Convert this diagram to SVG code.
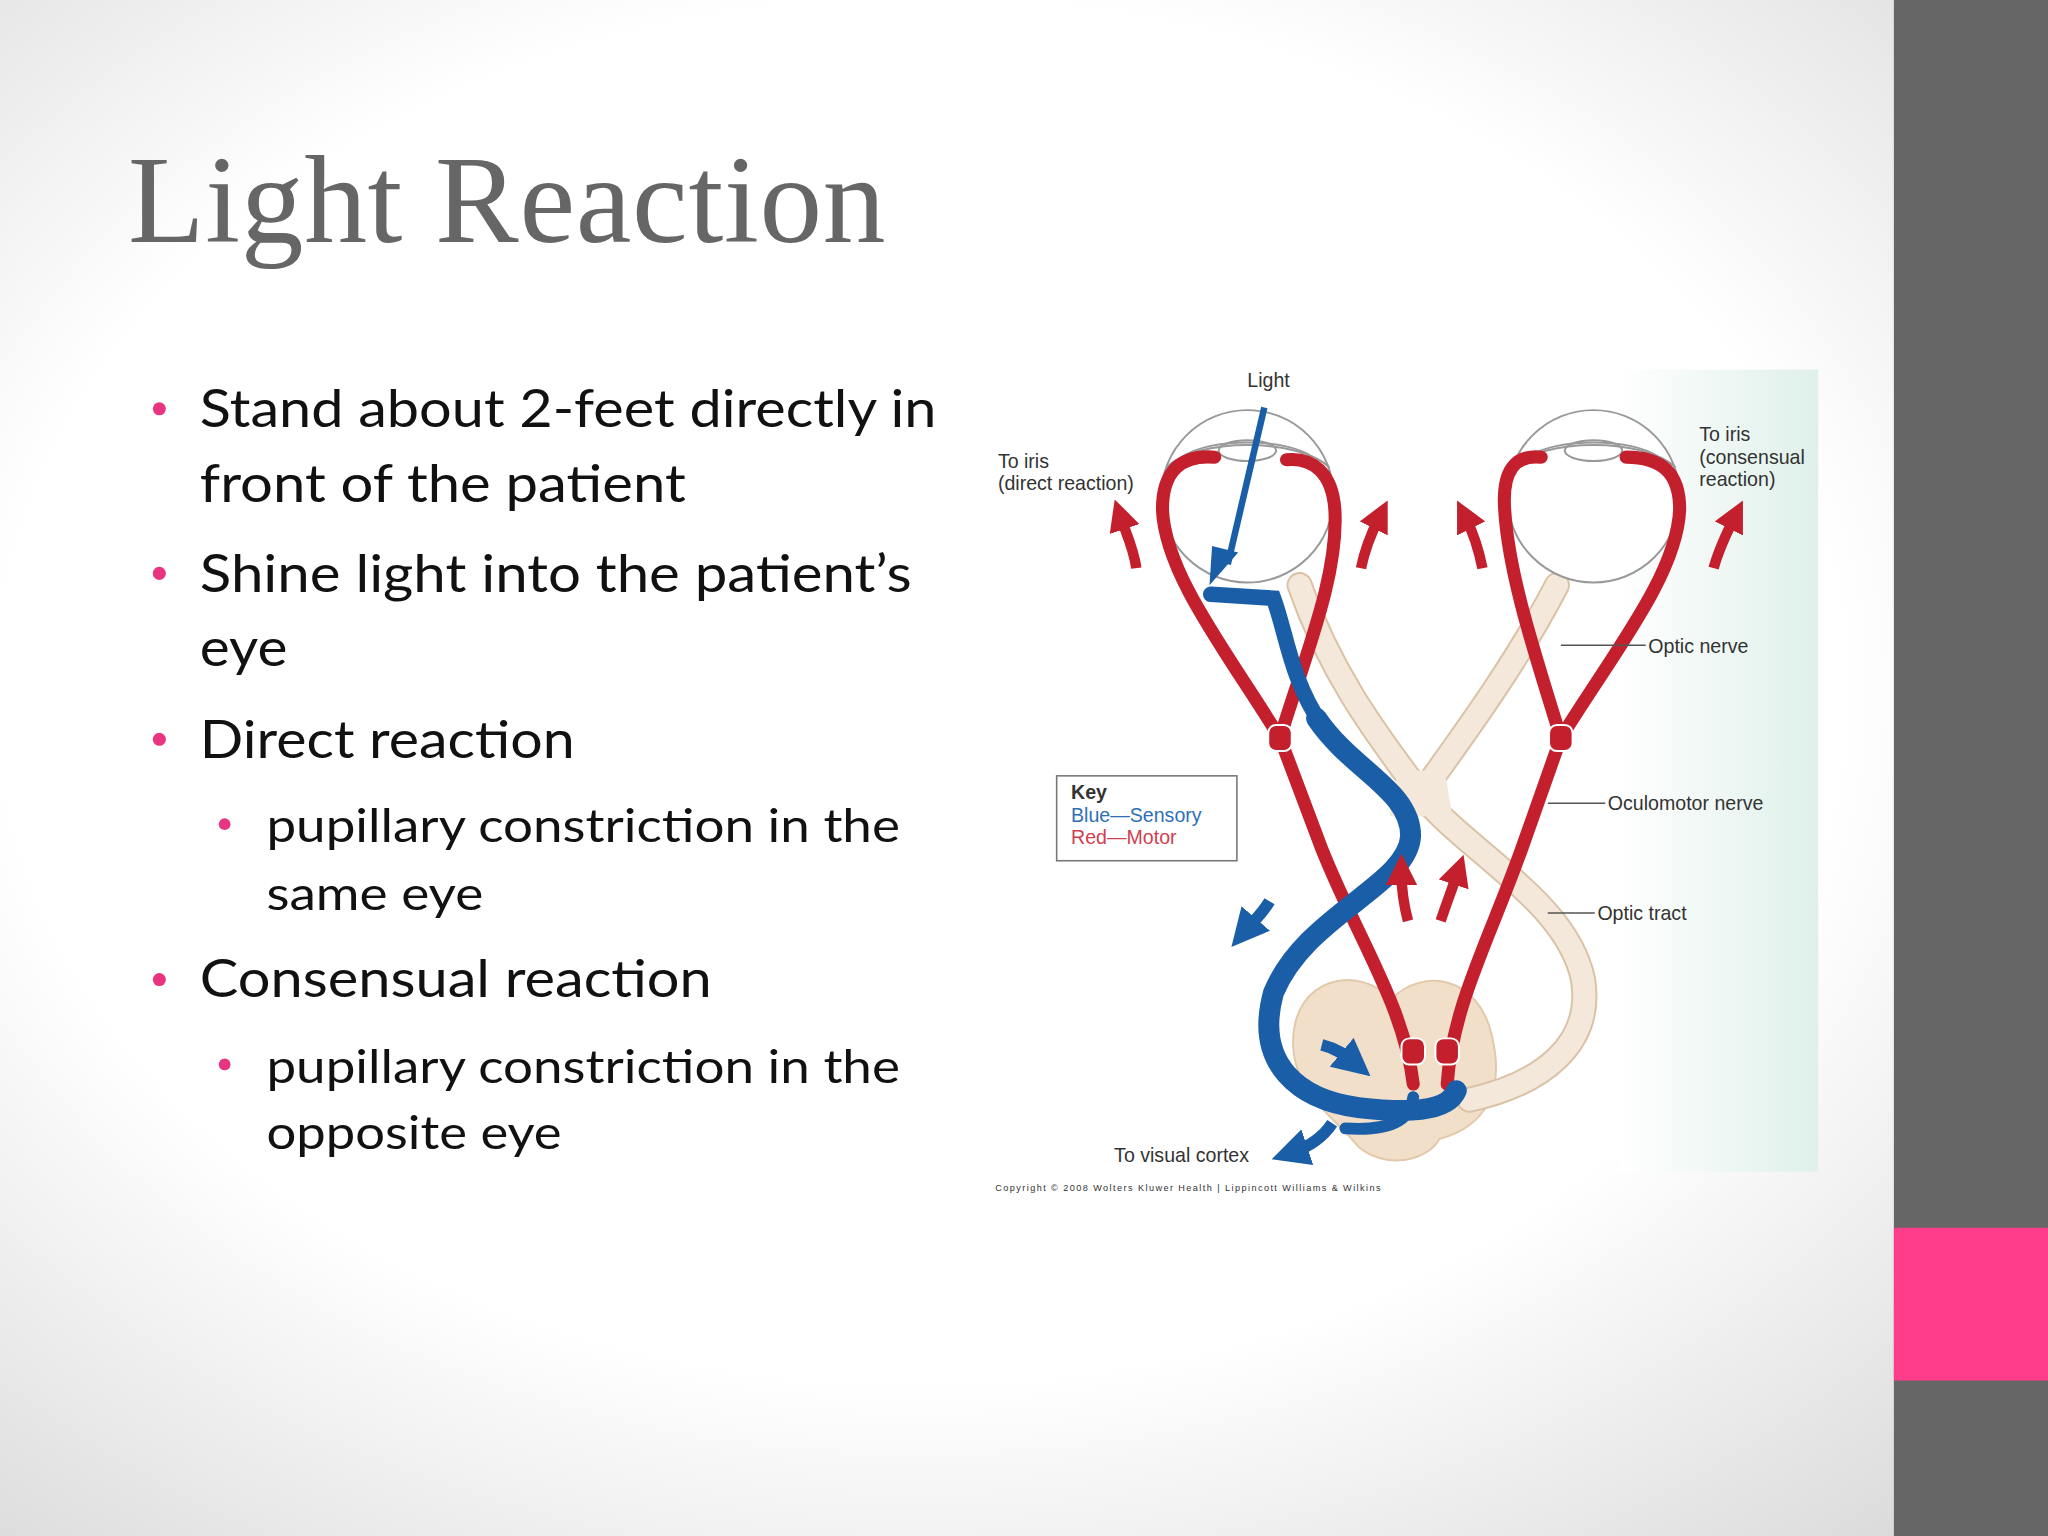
<svg xmlns="http://www.w3.org/2000/svg" width="2048" height="1536" viewBox="0 0 2048 1536">
<defs>
<radialGradient id="bg" cx="0.45" cy="0.45" r="0.75">
<stop offset="0.6" stop-color="#ffffff"/><stop offset="1" stop-color="#d8d8d8"/>
</radialGradient>
<linearGradient id="teal" x1="0" y1="0" x2="1" y2="0">
<stop offset="0" stop-color="#ffffff"/><stop offset="1" stop-color="#dff0ea"/>
</linearGradient>
<marker id="bh" viewBox="0 0 10 10" refX="4" refY="5" markerWidth="3.2" markerHeight="3.2" orient="auto"><path d="M0,0 L10,5 L0,10 Z" fill="#1a5ea8"/></marker>
<marker id="rh" viewBox="0 0 10 10" refX="4" refY="5" markerWidth="3" markerHeight="3" orient="auto"><path d="M0,0 L10,5 L0,10 Z" fill="#c41f2c"/></marker>
<style>
.b{font-family:Lato,"Open Sans",sans-serif;fill:#111}
.l{font-family:"Liberation Sans",Arial,sans-serif;fill:#333;font-size:15px}
.red{fill:none;stroke:#c41f2c;stroke-width:10;stroke-linecap:round}
.nerve{fill:none;stroke:#d9c2a6;stroke-width:20;stroke-linecap:round}
.nerveIn{fill:none;stroke:#f4e8da;stroke-width:17;stroke-linecap:round}
.blue{fill:none;stroke:#1a5ea8;stroke-linecap:round}
.ra{fill:none;stroke:#c41f2c;stroke-width:8;marker-end:url(#rh)}
.ba{fill:none;stroke:#1a5ea8;stroke-width:9;marker-end:url(#bh)}
.lead{stroke:#555;stroke-width:1.2}
</style>
</defs>
<g transform="scale(1.306122)">
<rect width="1568" height="1176" fill="url(#bg)"/>
<rect x="1450" y="0" width="118" height="1176" fill="#666666"/>
<rect x="1450" y="940" width="118" height="117" fill="#ff3d8b"/>
<text x="98" y="185" font-family="Liberation Serif,serif" font-size="96" fill="#666" textLength="580">Light Reaction</text>
<g id="bullets">
<g fill="#e8357f"><circle cx="122" cy="313" r="5"/><circle cx="122" cy="439" r="5"/><circle cx="122" cy="566" r="5"/><circle cx="172" cy="631" r="4.5"/><circle cx="122" cy="750" r="5"/><circle cx="172" cy="815" r="4.5"/></g>
<g lengthAdjust="spacingAndGlyphs">
<text class="b" x="153" y="327" font-size="40" textLength="564" lengthAdjust="spacingAndGlyphs">Stand about 2-feet directly in</text>
<text class="b" x="153" y="384" font-size="40" textLength="372" lengthAdjust="spacingAndGlyphs">front of the patient</text>
<text class="b" x="153" y="453" font-size="40" textLength="545" lengthAdjust="spacingAndGlyphs">Shine light into the patient’s</text>
<text class="b" x="153" y="510" font-size="40" textLength="67" lengthAdjust="spacingAndGlyphs">eye</text>
<text class="b" x="153" y="580" font-size="40" textLength="287" lengthAdjust="spacingAndGlyphs">Direct reaction</text>
<text class="b" x="204" y="645" font-size="36" textLength="485" lengthAdjust="spacingAndGlyphs">pupillary constriction in the</text>
<text class="b" x="204" y="697" font-size="36" textLength="166" lengthAdjust="spacingAndGlyphs">same eye</text>
<text class="b" x="153" y="763" font-size="40" textLength="392" lengthAdjust="spacingAndGlyphs">Consensual reaction</text>
<text class="b" x="204" y="829" font-size="36" textLength="485" lengthAdjust="spacingAndGlyphs">pupillary constriction in the</text>
<text class="b" x="204" y="880" font-size="36" textLength="226" lengthAdjust="spacingAndGlyphs">opposite eye</text>
</g>
</g>
<g id="diagram">
<rect x="1240" y="283" width="152" height="614" fill="url(#teal)"/>
<!-- brainstem -->
<path d="M1065 765 C1040 738 990 748 990 798 C990 838 1025 858 1040 878 C1060 895 1092 890 1102 872 C1140 862 1152 832 1142 792 C1132 748 1090 740 1065 765 Z" fill="#f1dfca" stroke="#e2c9ab" stroke-width="1.5"/>
<!-- optic nerves and tracts -->
<g id="optic">
<path class="nerve" d="M995 448 C1020 520 1060 570 1088 608 C1115 570 1160 510 1192 448"/>
<path class="nerve" d="M1088 608 C1120 650 1200 690 1212 750 C1220 800 1180 830 1125 842"/>
<path d="M1070 590 L1106 590 L1112 625 L1064 625 Z" fill="#f4e8da"/>
<path class="nerveIn" d="M995 448 C1020 520 1060 570 1088 608 C1115 570 1160 510 1192 448"/>
<path class="nerveIn" d="M1088 608 C1120 650 1200 690 1212 750 C1220 800 1180 830 1125 842"/>
</g>
<!-- eyes -->
<g id="eyeL" fill="none" stroke="#999" stroke-width="1.5">
<circle cx="955" cy="380" r="66" fill="#fff"/>
<path d="M893 358 C915 335 995 335 1018 358"/>
<path d="M905 350 C925 335 985 335 1005 350"/>
<ellipse cx="955" cy="345" rx="22" ry="8"/>
</g>
<g id="eyeR" fill="none" stroke="#999" stroke-width="1.5">
<circle cx="1220" cy="380" r="66" fill="#fff"/>
<path d="M1158 358 C1180 335 1260 335 1283 358"/>
<path d="M1170 350 C1190 335 1250 335 1270 350"/>
<ellipse cx="1220" cy="345" rx="22" ry="8"/>
</g>
<!-- red motor -->
<g id="motor">
<path class="red" d="M930 350 C905 348 890 360 890 390 C892 440 940 500 980 565 C1000 500 1025 440 1022 390 C1020 362 1005 350 985 352"/>
<path class="red" d="M1180 350 C1160 348 1150 360 1152 390 C1155 440 1175 500 1195 565 C1235 500 1284 440 1286 390 C1286 362 1272 350 1245 350"/>
<path class="red" d="M980 565 L1012 650 C1040 720 1075 770 1082 830"/>
<path class="red" d="M1195 565 L1165 650 C1140 720 1112 770 1108 830"/>
<g fill="#c41f2c" stroke="#fff" stroke-width="1.5"><rect x="971" y="555" width="18" height="20" rx="6"/><rect x="1186" y="555" width="18" height="20" rx="6"/><rect x="1073" y="795" width="18" height="20" rx="6"/><rect x="1099" y="795" width="18" height="20" rx="6"/></g>
</g>
<!-- blue sensory -->
<g id="sensory">
<path class="blue" stroke-width="12" d="M927 455 L975 458 C985 485 988 520 1012 555"/>
<path class="blue" stroke-width="16" d="M1008 550 C1035 590 1080 605 1080 640 C1078 678 1000 700 975 760 C960 815 995 842 1040 848 C1075 852 1108 852 1115 835"/>
<path class="blue" stroke-width="9" d="M1030 864 C1060 866 1080 860 1082 840"/>
<path d="M968 312 L940 432" stroke="#1a5ea8" stroke-width="5"/>
<path d="M926 448 L928 418 L948 423 Z" fill="#1a5ea8"/>
<path class="ba" d="M972 690 C966 700 960 705 954 712"/>
<path class="ba" d="M1012 800 C1024 803 1030 808 1036 813"/>
<path class="ba" d="M1020 860 C1012 872 1002 878 990 882"/>
</g>
<!-- red arrows -->
<g id="redArrows">
<path class="ra" d="M870 435 C868 420 862 408 858 396"/>
<path class="ra" d="M1042 435 C1045 420 1050 408 1056 396"/>
<path class="ra" d="M1135 435 C1132 420 1128 408 1122 396"/>
<path class="ra" d="M1312 435 C1316 420 1322 408 1328 396"/>
<path class="ra" d="M1078 705 C1074 690 1073 680 1073 668"/>
<path class="ra" d="M1103 705 C1108 690 1112 680 1116 668"/>
</g>
<!-- key -->
<g id="key">
<rect x="809" y="594" width="138" height="65" fill="#fff" stroke="#777" stroke-width="1.2"/>
<text class="l" x="820" y="612" font-weight="bold" fill="#222">Key</text>
<text class="l" x="820" y="629" style="fill:#2e6fb5">Blue—Sensory</text>
<text class="l" x="820" y="646" style="fill:#d04050">Red—Motor</text>
</g>
<!-- labels -->
<g id="labels">
<text class="l" x="955" y="296">Light</text>
<text class="l" x="764" y="358">To iris</text>
<text class="l" x="764" y="375">(direct reaction)</text>
<text class="l" x="1301" y="338">To iris</text>
<text class="l" x="1301" y="355">(consensual</text>
<text class="l" x="1301" y="372">reaction)</text>
<line class="lead" x1="1195" y1="494" x2="1260" y2="494"/><text class="l" x="1262" y="500">Optic nerve</text>
<line class="lead" x1="1185" y1="615" x2="1229" y2="615"/><text class="l" x="1231" y="620">Oculomotor nerve</text>
<line class="lead" x1="1185" y1="699" x2="1221" y2="699"/><text class="l" x="1223" y="704">Optic tract</text>
<text class="l" x="853" y="890">To visual cortex</text>
<text x="762" y="912" font-family="Liberation Sans,sans-serif" font-size="7" fill="#333" textLength="295">Copyright © 2008 Wolters Kluwer Health | Lippincott Williams &amp; Wilkins</text>
</g>
</g>
</g>
</svg>
